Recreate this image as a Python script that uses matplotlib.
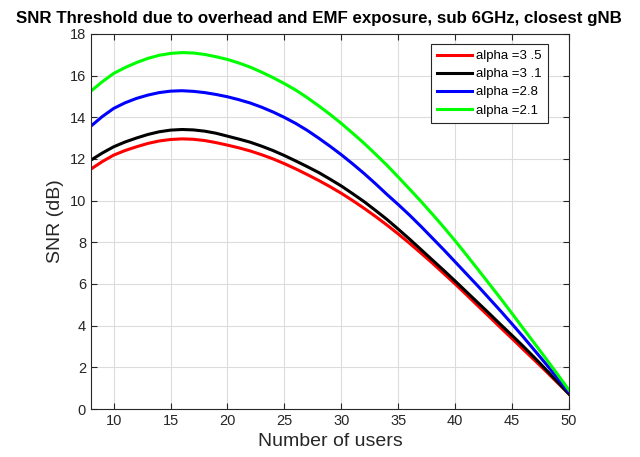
import matplotlib
matplotlib.use("Agg")
import matplotlib.pyplot as plt

plt.rcParams["font.family"] = ["Liberation Sans", "DejaVu Sans"]

# Number of users (x) and SNR thresholds (dB) per path-loss exponent
users = list(range(8, 51))
snr_a35 = [11.51, 11.87, 12.18, 12.40, 12.58, 12.74, 12.86, 12.93, 12.96, 12.94,
           12.88, 12.78, 12.66, 12.53, 12.38, 12.20, 12.00, 11.77, 11.52, 11.25,
           10.97, 10.67, 10.35, 10.00, 9.63, 9.24, 8.83, 8.40, 7.95, 7.48,
           7.00, 6.50, 6.00, 5.48, 4.95, 4.43, 3.90, 3.38, 2.85, 2.33,
           1.80, 1.26, 0.72]
snr_a31 = [11.94, 12.28, 12.58, 12.81, 13.00, 13.17, 13.30, 13.38, 13.41, 13.39,
           13.33, 13.23, 13.09, 12.95, 12.80, 12.61, 12.40, 12.16, 11.90, 11.63,
           11.35, 11.03, 10.70, 10.33, 9.95, 9.53, 9.10, 8.63, 8.15, 7.65,
           7.15, 6.65, 6.14, 5.62, 5.10, 4.58, 4.05, 3.53, 3.00, 2.45,
           1.88, 1.30, 0.72]
snr_a28 = [13.57, 14.03, 14.42, 14.69, 14.90, 15.06, 15.18, 15.25, 15.27, 15.24,
           15.18, 15.09, 14.98, 14.84, 14.68, 14.48, 14.25, 13.99, 13.70, 13.37,
           13.00, 12.61, 12.20, 11.76, 11.30, 10.81, 10.30, 9.81, 9.30, 8.76,
           8.20, 7.64, 7.06, 6.48, 5.90, 5.30, 4.70, 4.08, 3.45, 2.80,
           2.15, 1.48, 0.80]
snr_a21 = [15.25, 15.70, 16.10, 16.38, 16.62, 16.82, 16.97, 17.06, 17.10, 17.08,
           17.01, 16.90, 16.77, 16.60, 16.40, 16.16, 15.90, 15.61, 15.30, 14.94,
           14.55, 14.14, 13.70, 13.23, 12.75, 12.23, 11.70, 11.13, 10.55, 9.96,
           9.35, 8.72, 8.07, 7.39, 6.70, 6.00, 5.30, 4.58, 3.85, 3.13,
           2.40, 1.66, 0.91]

series = [
    ("alpha =3 .5", snr_a35, "#ff0000"),
    ("alpha =3 .1", snr_a31, "#000000"),
    ("alpha =2.8", snr_a28, "#0000ff"),
    ("alpha =2.1", snr_a21, "#00ff00"),
]

fig = plt.figure(figsize=(6.4, 4.57), dpi=100)
ax = fig.add_axes([0.142, 0.105, 0.747, 0.821])

for label, vals, col in series:
    ax.plot(users, vals, color=col, linewidth=2.2, label=label)

ax.set_xlim(8, 50)
ax.set_ylim(0, 18)
ax.set_xticks(range(10, 51, 5))
ax.set_yticks(range(0, 19, 2))
ax.grid(True, color="#dcdcdc", linewidth=0.8)
ax.set_axisbelow(True)

for sp in ax.spines.values():
    sp.set_color("#262626")
    sp.set_linewidth(0.8)
ax.tick_params(direction="in", top=True, right=True, length=4,
               color="#262626", labelcolor="#262626", labelsize=10.5)

ax.set_xlabel("Number of users", fontsize=14, color="#262626")
ax.set_ylabel("SNR (dB)", fontsize=14, color="#262626")
fig.text(319 / 640, 1 - 19 / 457,
         "SNR Threshold due to overhead and EMF exposure, sub 6GHz, closest gNB",
         fontsize=12.2, fontweight="bold", ha="center", va="center")

leg = ax.legend(loc="upper right", bbox_to_anchor=(0.956, 0.973), borderaxespad=0,
                fontsize=9.5, fancybox=False, framealpha=1, edgecolor="#262626",
                handlelength=2.7, handletextpad=0.3, borderpad=0.45,
                labelspacing=0.45)
leg.get_frame().set_linewidth(0.8)

fig.savefig("out.png", dpi=100)
